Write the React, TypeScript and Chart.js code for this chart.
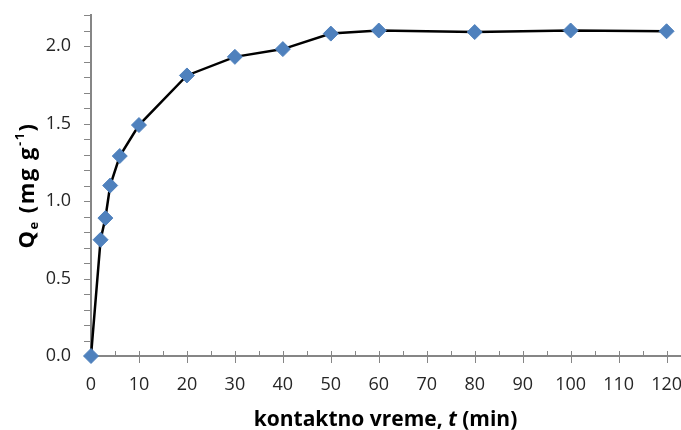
import React, { useEffect, useRef } from "react";
import { Chart, registerables } from "chart.js";

Chart.register(...registerables);

// ---- data ----
const contactTimeMin = [0, 2, 3, 4, 6, 10, 20, 30, 40, 50, 60, 80, 100, 120];
const qeValues = [0, 0.75, 0.89, 1.1, 1.29, 1.49, 1.81, 1.93, 1.98, 2.08, 2.1, 2.09, 2.1, 2.095];
const xTickValues = [0, 10, 20, 30, 40, 50, 60, 70, 80, 90, 100, 110, 120];
const xMinorTickValues = [5, 15, 25, 35, 45, 55, 65, 75, 85, 95, 105, 115];
const yTickValues = [0, 0.5, 1.0, 1.5, 2.0];
const yMinorTickValues = [0, 0.1, 0.2, 0.3, 0.4, 0.5, 0.6, 0.7, 0.8, 0.9, 1.0, 1.1, 1.2, 1.3, 1.4, 1.5, 1.6, 1.7, 1.8, 1.9, 2.0, 2.1, 2.2];
const xTitleParts = [
  { text: "kontaktno vreme, ", italic: false },
  { text: "t", italic: true },
  { text: " (min)", italic: false },
];
const yTitleParts = [
  { text: "Q", kind: "normal" },
  { text: "e", kind: "sub" },
  { text: " (mg g", kind: "normal" },
  { text: "-1", kind: "sup" },
  { text: ")", kind: "normal" },
];

const AXIS_COLOR = "#868686";
const LABEL_COLOR = "#262626";
const MARKER_COLOR = "#4F81BD";
const FONT = "'Open Sans'";

const zeroPadding = (s: any) => {
  s.paddingTop = 0;
  s.paddingBottom = 0;
  s.paddingLeft = 0;
  s.paddingRight = 0;
};

const decorPlugin = {
  id: "decor",
  beforeDatasetsDraw(chart: any) {
    const ctx = chart.ctx;
    const xs = chart.scales.x;
    const ys = chart.scales.y;
    const area = chart.chartArea;
    ctx.save();
    ctx.strokeStyle = AXIS_COLOR;
    ctx.lineWidth = 1;
    ctx.beginPath();
    for (const v of yMinorTickValues) {
      const py = Math.round(ys.getPixelForValue(v)) + 0.5;
      ctx.moveTo(area.left - 7, py);
      ctx.lineTo(area.left - 1, py);
    }
    for (const v of xTickValues) {
      const px = Math.round(xs.getPixelForValue(v)) + 0.5;
      ctx.moveTo(px, area.bottom - 5);
      ctx.lineTo(px, area.bottom + 7);
    }
    for (const v of xMinorTickValues) {
      const px = Math.round(xs.getPixelForValue(v)) + 0.5;
      ctx.moveTo(px, area.bottom - 5);
      ctx.lineTo(px, area.bottom);
    }
    ctx.stroke();
    ctx.restore();
  },
  afterDraw(chart: any) {
    const ctx = chart.ctx;
    const area = chart.chartArea;
    ctx.save();
    ctx.fillStyle = "#000";
    ctx.textBaseline = "alphabetic";
    // x title
    const xFont = (it: boolean) => `${it ? "italic " : ""}bold 21px ${FONT}`;
    let total = 0;
    for (const p of xTitleParts) {
      ctx.font = xFont(p.italic);
      total += ctx.measureText(p.text).width;
    }
    let cx = (area.left + area.right) / 2 - total / 2;
    for (const p of xTitleParts) {
      ctx.font = xFont(p.italic);
      ctx.textAlign = "left";
      ctx.fillText(p.text, cx, 426);
      cx += ctx.measureText(p.text).width;
    }
    // y title
    (ctx as any).letterSpacing = "1.5px";
    const yFont = (k: string) => (k === "normal" ? `bold 22px ${FONT}` : `bold 13px ${FONT}`);
    const yOff = (k: string) => (k === "sub" ? 4 : k === "sup" ? -10 : 0);
    total = 0;
    for (const p of yTitleParts) {
      ctx.font = yFont(p.kind);
      total += ctx.measureText(p.text).width;
    }
    ctx.translate(34, (area.top + area.bottom) / 2);
    ctx.rotate(-Math.PI / 2);
    let tx = -total / 2;
    for (const p of yTitleParts) {
      ctx.font = yFont(p.kind);
      ctx.textAlign = "left";
      ctx.fillText(p.text, tx, yOff(p.kind));
      tx += ctx.measureText(p.text).width;
    }
    ctx.restore();
  },
};

export default function App() {
  const canvasRef = useRef<HTMLCanvasElement | null>(null);

  useEffect(() => {
    if (!canvasRef.current) return;
    const chart = new Chart(canvasRef.current, {
      type: "line",
      data: {
        datasets: [
          {
            data: contactTimeMin.map((t, i) => ({ x: t, y: qeValues[i] })),
            borderColor: "#000000",
            borderWidth: 2.5,
            tension: 0,
            pointStyle: "rectRot",
            pointRadius: 7.5,
            pointBackgroundColor: MARKER_COLOR,
            pointBorderColor: MARKER_COLOR,
            pointBorderWidth: 1,
            clip: false as any,
          },
        ],
      },
      options: {
        animation: false,
        responsive: false,
        devicePixelRatio: 1,
        layout: { autoPadding: false, padding: { top: 15, right: 1, left: 0, bottom: 0 } } as any,
        plugins: {
          legend: { display: false },
          tooltip: { enabled: false },
        },
        scales: {
          x: {
            type: "linear",
            position: "bottom",
            min: 0,
            max: 122.8,
            afterFit: (s: any) => {
              s.height = 74;
              zeroPadding(s);
            },
            afterBuildTicks: (s: any) => {
              s.ticks = xTickValues.map((v) => ({ value: v }));
            },
            grid: { display: true, drawOnChartArea: false, drawTicks: false },
            border: { display: true, color: AXIS_COLOR, width: 2 },
            ticks: {
              padding: 18,
              autoSkip: false,
              maxRotation: 0,
              color: LABEL_COLOR,
              font: { family: FONT, size: 18 },
              callback: (v: any) => String(v),
            },
          },
          y: {
            type: "linear",
            min: 0,
            max: 2.2,
            afterFit: (s: any) => {
              s.width = 91;
              zeroPadding(s);
            },
            afterBuildTicks: (s: any) => {
              s.ticks = yTickValues.map((v) => ({ value: v }));
            },
            grid: { display: true, drawOnChartArea: false, drawTicks: false },
            border: { display: true, color: AXIS_COLOR, width: 2 },
            ticks: {
              padding: 20,
              color: LABEL_COLOR,
              font: { family: FONT, size: 18 },
              callback: (v: any) => Number(v).toFixed(1),
            },
          },
        },
      },
      plugins: [decorPlugin],
    });
    return () => chart.destroy();
  }, []);

  return (
    <div style={{ position: "absolute", left: 0, top: 0, width: 681, height: 430, background: "#fff" }}>
      <canvas ref={canvasRef} width={681} height={430} style={{ display: "block" }} />
    </div>
  );
}
